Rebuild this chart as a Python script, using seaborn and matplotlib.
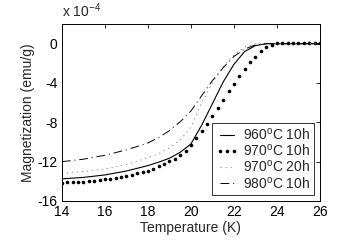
import numpy as np
import matplotlib
matplotlib.use("Agg")
import matplotlib.pyplot as plt
import seaborn as sns

sns.set_style("white")
plt.rcParams['font.family'] = ['Liberation Sans', 'DejaVu Sans']
plt.rcParams['mathtext.fontset'] = 'custom'
plt.rcParams['mathtext.rm'] = 'Liberation Sans'
plt.rcParams['mathtext.it'] = 'Liberation Sans'

# Temperature (K) for continuous curves
t_line = [14, 15, 16, 17, 18, 18.5, 19, 19.5, 20, 20.5, 21, 21.5, 22, 22.5, 23, 23.5, 24, 25, 26]
# Magnetization in units of 1e-4 emu/g
m_960_10h = [-13.75, -13.6, -13.35, -12.95, -12.4, -12.05, -11.65, -11.05, -10.2, -8.3, -6.1, -3.9, -2.1, -0.8, -0.2, 0.0, 0.0, 0.0, 0.0]
m_970_20h = [-13.2, -13.0, -12.75, -12.3, -11.6, -11.2, -10.6, -9.8, -8.5, -6.0, -4.0, -2.3, -1.15, -0.35, -0.05, 0.0, 0.0, 0.0, 0.0]
m_980_10h = [-12.0, -11.75, -11.35, -10.8, -10.1, -9.55, -8.85, -7.95, -6.85, -5.3, -3.75, -2.45, -1.3, -0.55, -0.12, 0.0, 0.0, 0.0, 0.0]

# Temperature (K) for the dotted (marker) series, 0.25 K steps
t_dots = [14.0, 14.25, 14.5, 14.75, 15.0, 15.25, 15.5, 15.75, 16.0, 16.25, 16.5, 16.75,
          17.0, 17.25, 17.5, 17.75, 18.0, 18.25, 18.5, 18.75, 19.0, 19.25, 19.5, 19.75,
          20.0, 20.25, 20.5, 20.75, 21.0, 21.25, 21.5, 21.75, 22.0, 22.25, 22.5, 22.75,
          23.0, 23.25, 23.5, 23.75, 24.0, 24.25, 24.5, 24.75, 25.0, 25.25, 25.5, 25.75, 26.0]
m_970_10h = [-14.12, -14.1, -14.08, -14.06, -14.03, -14.0, -13.96, -13.9, -13.8, -13.72, -13.62, -13.52,
             -13.42, -13.31, -13.18, -13.04, -12.9, -12.7, -12.45, -12.2, -11.98, -11.7, -11.37, -10.94,
             -10.3, -9.59, -8.88, -8.15, -7.39, -6.58, -5.7, -4.83, -4.08, -3.27, -2.53, -1.89,
             -1.32, -0.74, -0.37, -0.1, 0.03, 0.03, 0.03, 0.03, 0.03, 0.03, 0.03, 0.03, 0.03]

labels = ["960$^\\mathrm{o}$C 10h", "970$^\\mathrm{o}$C 10h", "970$^\\mathrm{o}$C 20h", "980$^\\mathrm{o}$C 10h"]

fig = plt.figure(figsize=(3.4, 2.4), dpi=100)
ax = fig.add_axes([0.182, 0.1625, 0.759, 0.7375])

sns.lineplot(x=t_line, y=m_960_10h, ax=ax, color='black', lw=0.8, label=labels[0])
sns.lineplot(x=t_dots, y=m_970_10h, ax=ax, color='black', linestyle='none', marker='o',
             markersize=2.6, markeredgewidth=0, label=labels[1])
sns.lineplot(x=t_line, y=m_970_20h, ax=ax, color='#888888', lw=0.8, linestyle=(0, (1, 3.5)), label=labels[2])
sns.lineplot(x=t_line, y=m_980_10h, ax=ax, color='black', lw=0.7, linestyle=(0, (9, 4, 1, 4)), label=labels[3])

ax.set_xlim(14, 26)
ax.set_ylim(-16, 2)
ax.set_xticks([14, 16, 18, 20, 22, 24, 26])
ax.set_yticks([-16, -12, -8, -4, 0])
ax.set_xticklabels(['14', '16', '18', '20', '22', '24', '26'])
ax.set_yticklabels(['-16', '-12', '-8', '-4', '0'])
ax.tick_params(direction='in', length=3, width=0.6, top=True, right=True,
               labelsize=10, pad=3, colors='black')
for s in ax.spines.values():
    s.set_visible(True)
    s.set_color('black')
    s.set_linewidth(0.7)
ax.set_xlabel('Temperature (K)', fontsize=10, labelpad=1)
ax.set_ylabel('Magnetization (emu/g)', fontsize=10, labelpad=2)
ax.text(0.0, 1.02, 'x 10$^{-4}$', transform=ax.transAxes, fontsize=10, ha='left', va='bottom')

leg = ax.legend(loc='lower right', fontsize=10, numpoints=3, frameon=True, fancybox=False,
                edgecolor='black', borderpad=0.25, labelspacing=0.02, handlelength=1.6,
                handletextpad=0.35, borderaxespad=0.45)
leg.get_frame().set_linewidth(0.7)

fig.savefig('out.png', dpi=100, facecolor='white')
